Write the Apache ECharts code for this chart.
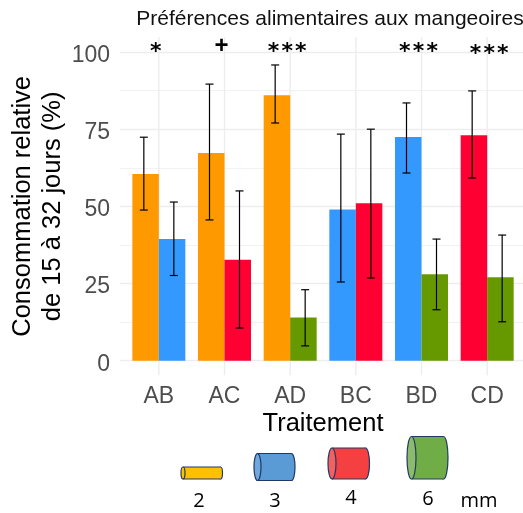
<!DOCTYPE html>
<html>
<head>
<meta charset="utf-8">
<style>html,body{margin:0;padding:0;background:#fff}#c{width:523px;height:513px}</style>
<script src="https://cdn.jsdelivr.net/npm/echarts@6/dist/echarts.min.js"></script>
</head>
<body>
<div id="c"></div>
<script>
const categories = ['AB','AC','AD','BC','BD','CD'];
const firstValues = [60.5,67.3,86,49,72.5,73];
const secondValues = [39.4,32.7,14,51,28,27];
const firstColors = ['#FF9900','#FF9900','#FF9900','#3399FF','#3399FF','#FF0033'];
const secondColors = ['#3399FF','#FF0033','#669900','#FF0033','#669900','#669900'];
const firstLow = [48.8,45.6,77,25.5,60.8,59.2];
const firstHigh = [72.4,89.6,95.8,73.4,83.5,87.4];
const secondLow = [27.6,10.6,4.8,26.8,16.5,12.6];
const secondHigh = [51.4,55,23,75,39.4,40.7];
const marks = ['*','+','***','','***','***'];
const markLevels = [100,101.8,100,0,100,99.3];
const sizeLabels = ['2','3','4','6'];
const sizeUnit = 'mm';

const FONT = '"Liberation Sans", Arial, sans-serif';
const LEG = '"Open Sans", sans-serif';
const chart = echarts.init(document.getElementById('c'), null, {renderer:'canvas'});

function errSeries(lo, hi, dx){
  return {
    type:'custom', xAxisIndex:0, yAxisIndex:0, z:5, silent:true,
    data: categories.map((c,i)=>[i,lo[i],hi[i]]),
    renderItem(p,api){
      const a = api.coord([api.value(0),api.value(1)]);
      const b = api.coord([api.value(0),api.value(2)]);
      const x = a[0]+dx, st={stroke:'#000',lineWidth:1.2,fill:null};
      return {type:'group',children:[
        {type:'line',shape:{x1:x,y1:a[1],x2:x,y2:b[1]},style:st},
        {type:'line',shape:{x1:x-4,y1:a[1],x2:x+4,y2:a[1]},style:st},
        {type:'line',shape:{x1:x-4,y1:b[1],x2:x+4,y2:b[1]},style:st}
      ]};
    }
  };
}
function cylinder(x,y,w,h,rx,fill,cap){
  const stroke='#1F3864', s={stroke,lineWidth:1.2};
  const el=(t,shape,style)=>({type:t,silent:true,shape,style});
  return [
    el('ellipse',{cx:x+w-rx,cy:y+h/2,rx:rx,ry:h/2},{fill,...s}),
    el('rect',{x:x+rx,y:y,width:w-2*rx,height:h},{fill}),
    el('line',{x1:x+rx,y1:y,x2:x+w-rx,y2:y},s),
    el('line',{x1:x+rx,y1:y+h,x2:x+w-rx,y2:y+h},s),
    el('ellipse',{cx:x+rx,cy:y+h/2,rx:rx,ry:h/2},{fill:cap,...s})
  ];
}
const legendText=(t,x,y)=>({type:'text',x:x,y:y,silent:true,style:{text:t,font:'20px '+LEG,fill:'#000',align:'center',verticalAlign:'middle'}});

chart.setOption({
  animation:false,
  backgroundColor:'#fff',
  title:{text:'Préférences alimentaires aux mangeoires',left:325,top:4,textAlign:'center',
    textStyle:{fontFamily:FONT,fontSize:21,fontWeight:'normal',color:'#111'}},
  grid:[
    {left:126,top:52,width:394,height:308.7,outerBoundsMode:'none'},
    {left:120,top:52,width:403,height:308.7,outerBoundsMode:'none'}
  ],
  xAxis:[
    {type:'category',gridIndex:0,data:categories,
     name:'Traitement',nameLocation:'middle',nameGap:50,nameMoveOverlap:false,
     nameTextStyle:{fontFamily:FONT,fontSize:25.5,color:'#000'},
     axisLine:{show:false,onZero:false},
     axisTick:{show:false},
     axisLabel:{fontFamily:FONT,fontSize:23,color:'#4D4D4D',margin:24},
     splitLine:{show:false}},
    {type:'value',gridIndex:1,min:0,max:1,show:false}
  ],
  yAxis:[
    {type:'value',gridIndex:0,min:0,max:100,interval:25,
     name:'Consommation relative\nde 15 à 32 jours (%)',nameLocation:'middle',nameRotate:90,nameGap:58,nameMoveOverlap:false,
     nameTextStyle:{fontFamily:FONT,fontSize:25.5,color:'#000',lineHeight:30},
     axisLine:{show:false},axisTick:{show:false},
     axisLabel:{fontFamily:FONT,fontSize:23,color:'#4D4D4D',margin:16,verticalAlign:'top',lineHeight:7},
     splitLine:{show:false}},
    {type:'value',gridIndex:1,min:0,max:100,interval:25,
     axisLine:{show:false},axisTick:{show:false},axisLabel:{show:false},
     splitLine:{show:true,lineStyle:{color:'#EDEDED',width:1.4}},
     minorTick:{show:false,splitNumber:2},
     minorSplitLine:{show:true,lineStyle:{color:'#F2F2F2',width:1.2}}}
  ],
  series:[
    {type:'custom',xAxisIndex:0,yAxisIndex:0,z:1,silent:true,
     data:categories.map((c,i)=>[i]),
     renderItem(p,api){
       const a=api.coord([api.value(0),0]), b=api.coord([api.value(0),100]);
       return {type:'line',shape:{x1:a[0],y1:a[1]+14.5,x2:a[0],y2:b[1]-15},style:{stroke:'#EDEDED',lineWidth:1.4,fill:null}};
     }},
    {type:'bar',xAxisIndex:0,yAxisIndex:0,barWidth:26.5,barGap:0,z:2,
     data:firstValues.map((v,i)=>({value:v,itemStyle:{color:firstColors[i]}}))},
    {type:'bar',xAxisIndex:0,yAxisIndex:0,barWidth:26.5,barGap:0,z:2,
     data:secondValues.map((v,i)=>({value:v,itemStyle:{color:secondColors[i]}}))},
    errSeries(firstLow,firstHigh,-15),
    errSeries(secondLow,secondHigh,15),
    {type:'custom',xAxisIndex:0,yAxisIndex:0,z:6,silent:true,
     data:categories.map((c,i)=>[i,markLevels[i]]),
     renderItem(p,api){
       const i=api.value(0), a=api.coord([i,api.value(1)]), m=marks[i];
       return {type:'text',x:a[0]+(i===5?2:-3),y:a[1],style:{
         text:m.split('').join('\u200A'),
         font:m==='+'?'bold 24px "Liberation Sans"':'bold 22px "DejaVu Sans"',
         fill:'#000',align:'center',verticalAlign:'middle'}};
     }}
  ],
  graphic:[
    ...cylinder(181,467,41.5,12,2,'#FFC000','#FFC000'),
    ...cylinder(254,453.5,41,27,3.5,'#5B9BD5','#6FA8DC'),
    ...cylinder(328,448,41.5,31,4,'#F44040','#F46060'),
    ...cylinder(407,436.5,41,42.5,4.5,'#70AD47','#8DBB6C'),
    legendText(sizeLabels[0],199,501),
    legendText(sizeLabels[1],275,501),
    legendText(sizeLabels[2],351,498),
    legendText(sizeLabels[3],428,499),
    legendText(sizeUnit,479,501)
  ]
});
</script>
</body>
</html>
